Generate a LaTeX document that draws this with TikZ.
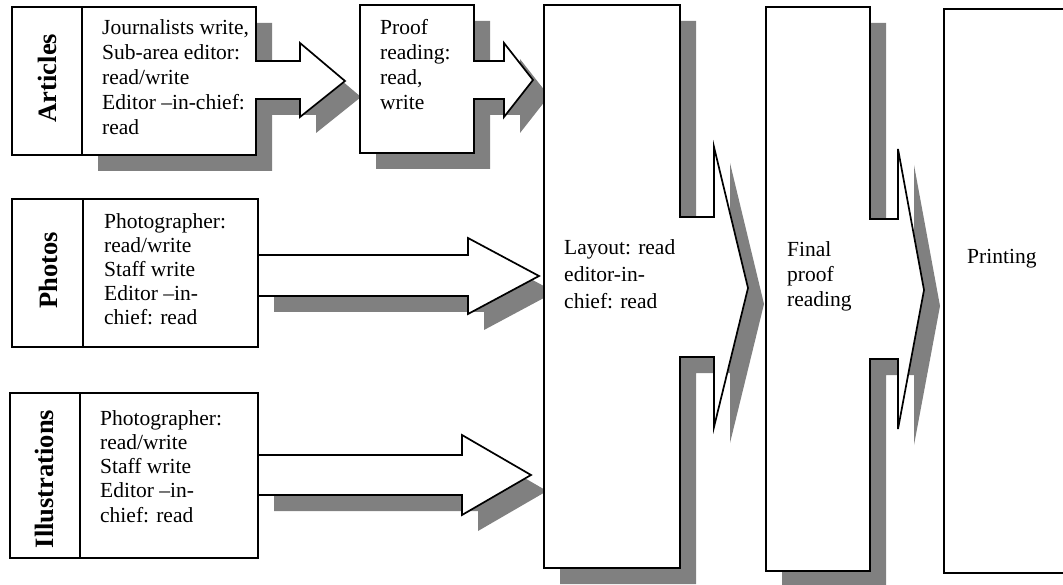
\documentclass[tikz,border=0pt]{standalone}
\usepackage{fontspec}
\setmainfont{Liberation Serif}
\begin{document}
\begin{tikzpicture}[x=1pt,y=-1pt]
\tikzset{
  shadowfill/.style={fill=black!50, draw=none},
  shapeline/.style={draw=black, line width=1.7pt, fill=white, line join=miter},
  celltext/.style={font=\fontsize{21.5}{25}\selectfont, anchor=base west, inner sep=0pt},
  sidelabel/.style={font=\fontsize{26.5}{30}\selectfont\bfseries, rotate=90, inner sep=0pt},
}
\useasboundingbox (0,0) rectangle (1063,585);
\clip (0,0) rectangle (1063,585);
\fill[white] (0,0) rectangle (1063,585);

% outlines of the merged box-and-arrow shapes
\def\ArticlesShape{(82,7) -- (256,7) -- (256,61) -- (300,61) -- (300,43) -- (345,81) -- (300,117) -- (300,99) -- (256,99) -- (256,155) -- (82,155) -- cycle}
\def\ProofShape{(360,5) -- (474,5) -- (474,61) -- (504,61) -- (504,43) -- (533,80) -- (504,117) -- (504,99) -- (474,99) -- (474,153) -- (360,153) -- cycle}
\def\LayoutShape{(544,5) -- (680,5) -- (680,217) -- (714,217) -- (714,147) -- (748,288) -- (714,427) -- (714,357) -- (680,357) -- (680,568) -- (544,568) -- cycle}
\def\FinalShape{(766,7) -- (870,7) -- (870,219) -- (898,219) -- (898,149) -- (924,290) -- (898,429) -- (898,359) -- (870,359) -- (870,571) -- (766,571) -- cycle}
\def\PhotosArrow{(258,255) -- (468,255) -- (468,238) -- (539,276) -- (468,314) -- (468,296) -- (258,296) -- cycle}
\def\IllusArrow{(258,455) -- (462,455) -- (462,435) -- (531,475) -- (462,515) -- (462,495) -- (258,495) -- cycle}

% drop shadows
\begin{scope}[shift={(16,16)}]
  \fill[shadowfill] \ArticlesShape;
  \fill[shadowfill] \ProofShape;
  \fill[shadowfill] \LayoutShape;
  \fill[shadowfill] \FinalShape;
  \fill[shadowfill] \PhotosArrow;
  \fill[shadowfill] \IllusArrow;
\end{scope}

% shapes
\path[shapeline] \ArticlesShape;
\path[shapeline] \ProofShape;
\path[shapeline] \LayoutShape;
\path[shapeline] \FinalShape;
\path[shapeline] (944,9) rectangle (1080,573);
\fill[white] \PhotosArrow;
\draw[line width=1.7pt] (258,255) -- (468,255) -- (468,238) -- (539,276) -- (468,314) -- (468,296) -- (258,296);
\fill[white] \IllusArrow;
\draw[line width=1.7pt] (258,455) -- (462,455) -- (462,435) -- (531,475) -- (462,515) -- (462,495) -- (258,495);

% source boxes with side labels
\path[shapeline] (12,7) rectangle (82,155);
\path[shapeline] (12,199) rectangle (258,347);
\draw[line width=1.7pt] (83,199) -- (83,347);
\path[shapeline] (10,393) rectangle (258,558);
\draw[line width=1.7pt] (80,393) -- (80,558);

\node[sidelabel] (artlab) at (47,78) {Articles};
\node[sidelabel] (phlab) at (48,270) {Photos};
\node[sidelabel] (illlab) at (44,479) {Illustrations};

% texts
\node[celltext] (arttext) at (102,35) {\parbox[t]{200pt}{Journalists write,\\Sub-area editor:\\read/write\\Editor –in-chief:\\read}};
\node[celltext] (prooftext) at (380,35) {\parbox[t]{100pt}{Proof\\reading:\\read,\\write}};
\node[celltext, font=\fontsize{21.5}{24}\selectfont] (phtext) at (104,229) {\parbox[t]{200pt}{Photographer:\\read/write\\Staff write\\Editor –in-\\chief: read}};
\node[celltext, font=\fontsize{21.5}{24.3}\selectfont] (illtext) at (100,425) {\parbox[t]{200pt}{Photographer:\\read/write\\Staff write\\Editor –in-\\chief: read}};
\node[celltext, font=\fontsize{21.5}{27}\selectfont] (laytext) at (564,255) {\parbox[t]{150pt}{Layout: read\\editor-in-\\chief: read}};
\node[celltext] (finaltext) at (787,257) {\parbox[t]{100pt}{Final\\proof\\reading}};
\node[celltext] (printtext) at (967,264) {Printing};
\end{tikzpicture}
\end{document}
